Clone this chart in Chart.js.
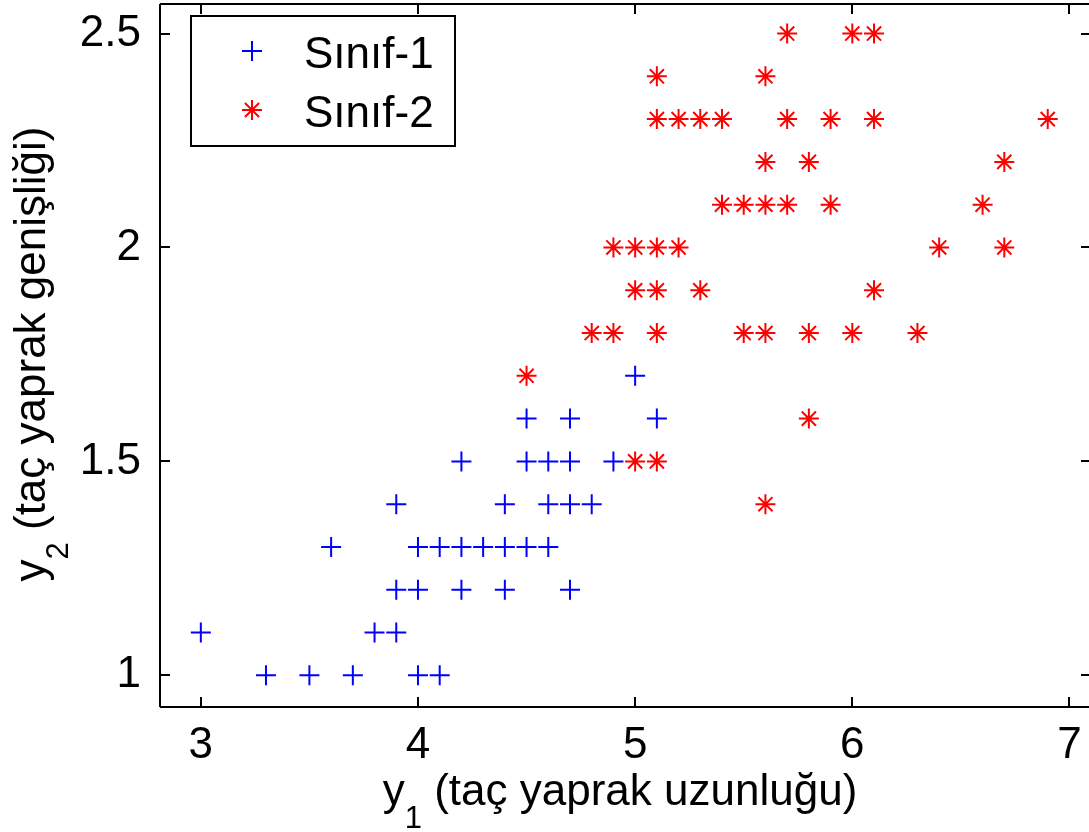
<!DOCTYPE html>
<html>
<head>
<meta charset="utf-8">
<script src="https://cdn.jsdelivr.net/npm/chart.js@4/dist/chart.umd.min.js"></script>
<style>
  html, body { margin: 0; padding: 0; background: #fff; overflow: hidden; }
  #wrap { width: 1089px; height: 832px; }
</style>
</head>
<body>
<div id="wrap"><canvas id="c" width="1089" height="832"></canvas></div>
<script>
// Petal measurements for the two classes
const seriesNames = ['Sınıf-1', 'Sınıf-2'];

const class1Length = [3.3, 3.5, 3.7, 4.0, 4.1,
                      3.0, 3.8, 3.9,
                      3.9, 4.0, 4.2, 4.4, 4.7,
                      3.6, 4.0, 4.1, 4.2, 4.3, 4.4, 4.5, 4.6,
                      3.9, 4.4, 4.6, 4.7, 4.8,
                      4.2, 4.5, 4.6, 4.7, 4.9,
                      4.5, 4.7, 5.1,
                      5.0];
const class1Width  = [1.0, 1.0, 1.0, 1.0, 1.0,
                      1.1, 1.1, 1.1,
                      1.2, 1.2, 1.2, 1.2, 1.2,
                      1.3, 1.3, 1.3, 1.3, 1.3, 1.3, 1.3, 1.3,
                      1.4, 1.4, 1.4, 1.4, 1.4,
                      1.5, 1.5, 1.5, 1.5, 1.5,
                      1.6, 1.6, 1.6,
                      1.7];

const class2Length = [5.6,
                      5.0, 5.1,
                      5.8,
                      4.5,
                      4.8, 4.9, 5.1, 5.5, 5.6, 5.8, 6.0, 6.3,
                      5.0, 5.1, 5.3, 6.1,
                      4.9, 5.0, 5.1, 5.2, 6.4, 6.7,
                      5.4, 5.5, 5.6, 5.7, 5.9, 6.6,
                      5.6, 5.8, 6.7,
                      5.1, 5.2, 5.3, 5.4, 5.7, 5.9, 6.1, 6.9,
                      5.1, 5.6,
                      5.7, 6.0, 6.1];
const class2Width  = [1.4,
                      1.5, 1.5,
                      1.6,
                      1.7,
                      1.8, 1.8, 1.8, 1.8, 1.8, 1.8, 1.8, 1.8,
                      1.9, 1.9, 1.9, 1.9,
                      2.0, 2.0, 2.0, 2.0, 2.0, 2.0,
                      2.1, 2.1, 2.1, 2.1, 2.1, 2.1,
                      2.2, 2.2, 2.2,
                      2.3, 2.3, 2.3, 2.3, 2.3, 2.3, 2.3, 2.3,
                      2.4, 2.4,
                      2.5, 2.5, 2.5];

const xTicks = [3, 4, 5, 6, 7];
const yTicks = [1, 1.5, 2, 2.5];
const xRange = [2.812, 7.09];
const yRange = [0.926, 2.569];

// Axis titles: main letter, subscript, remainder
const xTitle = ['y', '1', ' (taç yaprak uzunluğu)'];
const yTitle = ['y', '2', ' (taç yaprak genişliği)'];

const FONT = '"Liberation Sans", Arial, Helvetica, sans-serif';
const BLUE = '#0000ff';
const RED = '#ff0000';

const toPoints = (xs, ys) => xs.map((x, i) => ({ x: x, y: ys[i] }));

function drawMarker(ctx, style, color, x, y) {
  const opts = { pointStyle: style, radius: 10, borderWidth: 2, rotation: 0 };
  ctx.save();
  ctx.strokeStyle = color;
  ctx.fillStyle = color;
  ctx.lineWidth = 2;
  if (Chart.helpers && Chart.helpers.drawPoint) {
    Chart.helpers.drawPoint(ctx, opts, x, y);
  } else {
    const r = 10, d = r * Math.SQRT1_2;
    ctx.beginPath();
    ctx.moveTo(x - r, y); ctx.lineTo(x + r, y);
    ctx.moveTo(x, y - r); ctx.lineTo(x, y + r);
    if (style === 'star') {
      ctx.moveTo(x - d, y - d); ctx.lineTo(x + d, y + d);
      ctx.moveTo(x - d, y + d); ctx.lineTo(x + d, y - d);
    }
    ctx.stroke();
  }
  ctx.restore();
}

// No extra room for overhanging first/last tick labels: the box fills the canvas
function noLabelPadding(s) {
  s.paddingLeft = 0;
  s.paddingRight = 0;
  s.paddingTop = 0;
  s.paddingBottom = 0;
}

// Axis box with inward ticks, sub-scripted axis titles and a boxed legend
const framePlugin = {
  id: 'frame',
  afterDatasetsDraw(chart) {
    const { ctx, chartArea: a, scales } = chart;
    const right = a.right + 2;
    ctx.save();
    ctx.strokeStyle = '#000';
    ctx.lineWidth = 2;
    ctx.beginPath();
    ctx.moveTo(a.left, a.top); ctx.lineTo(right, a.top);
    ctx.moveTo(a.left, a.top); ctx.lineTo(a.left, a.bottom);
    ctx.moveTo(a.left, a.bottom); ctx.lineTo(right, a.bottom);
    ctx.moveTo(right, a.top); ctx.lineTo(right, a.bottom);
    const tl = 10;
    xTicks.forEach(v => {
      const px = Math.round(scales.x.getPixelForValue(v));
      ctx.moveTo(px, a.bottom); ctx.lineTo(px, a.bottom - tl);
      ctx.moveTo(px, a.top); ctx.lineTo(px, a.top + tl);
    });
    yTicks.forEach(v => {
      const py = Math.round(scales.y.getPixelForValue(v));
      ctx.moveTo(a.left, py); ctx.lineTo(a.left + tl, py);
      ctx.moveTo(right, py); ctx.lineTo(right - tl, py);
    });
    ctx.stroke();
    ctx.restore();
  },
  afterDraw(chart) {
    const { ctx } = chart;
    const mainFont = '44px ' + FONT;
    const subFont = '31px ' + FONT;

    function titleWidth(parts) {
      ctx.font = mainFont;
      const w0 = ctx.measureText(parts[0]).width;
      const w2 = ctx.measureText(parts[2]).width;
      ctx.font = subFont;
      const w1 = ctx.measureText(parts[1]).width;
      return [w0, w1, w2];
    }
    function drawTitle(parts, startX, baseY) {
      const w = titleWidth(parts);
      ctx.fillStyle = '#000';
      ctx.textBaseline = 'alphabetic';
      ctx.textAlign = 'left';
      ctx.font = mainFont;
      ctx.fillText(parts[0], startX, baseY);
      ctx.font = subFont;
      ctx.fillText(parts[1], startX + w[0], baseY + 23);
      ctx.font = mainFont;
      ctx.fillText(parts[2], startX + w[0] + w[1], baseY);
    }

    ctx.save();
    let w = titleWidth(xTitle);
    let total = w[0] + w[1] + w[2];
    drawTitle(xTitle, 620 - total / 2, 805);
    w = titleWidth(yTitle);
    total = w[0] + w[1] + w[2];
    ctx.translate(45, 354);
    ctx.rotate(-Math.PI / 2);
    drawTitle(yTitle, -total / 2, 0);
    ctx.restore();

    // legend
    ctx.save();
    const box = { x: 191, y: 16, w: 264, h: 130 };
    ctx.fillStyle = '#fff';
    ctx.fillRect(box.x, box.y, box.w, box.h);
    ctx.strokeStyle = '#000';
    ctx.lineWidth = 2;
    ctx.strokeRect(box.x, box.y, box.w, box.h);
    const rows = [
      { label: chart.data.datasets[0].label, style: 'cross', color: BLUE, cy: 51 },
      { label: chart.data.datasets[1].label, style: 'star', color: RED, cy: 110 }
    ];
    rows.forEach(r => {
      drawMarker(ctx, r.style, r.color, 252, r.cy);
      ctx.fillStyle = '#000';
      ctx.font = '44px ' + FONT;
      ctx.textAlign = 'left';
      ctx.textBaseline = 'alphabetic';
      ctx.fillText(r.label, 304, r.cy + 17);
    });
    ctx.restore();
  }
};

new Chart(document.getElementById('c'), {
  type: 'scatter',
  data: {
    datasets: [
      {
        label: seriesNames[0],
        data: toPoints(class1Length, class1Width),
        pointStyle: 'cross',
        pointRadius: 10,
        pointHoverRadius: 10,
        borderColor: BLUE,
        backgroundColor: BLUE,
        pointBorderWidth: 2,
        order: 2
      },
      {
        label: seriesNames[1],
        data: toPoints(class2Length, class2Width),
        pointStyle: 'star',
        pointRadius: 10,
        pointHoverRadius: 10,
        borderColor: RED,
        backgroundColor: RED,
        pointBorderWidth: 2,
        order: 1
      }
    ]
  },
  options: {
    responsive: false,
    animation: false,
    events: [],
    layout: { autoPadding: false, padding: { top: 4, right: 0, left: 0, bottom: 0 } },
    plugins: { legend: { display: false }, tooltip: { enabled: false } },
    scales: {
      x: {
        type: 'linear',
        min: xRange[0],
        max: xRange[1],
        grid: { display: false },
        border: { display: false },
        afterBuildTicks: s => { s.ticks = xTicks.map(v => ({ value: v })); },
        afterFit: s => { s.height = 125; noLabelPadding(s); },
        ticks: {
          color: '#000',
          padding: 9,
          maxRotation: 0,
          font: { family: FONT, size: 44, lineHeight: 1 },
          callback: v => String(v)
        }
      },
      y: {
        type: 'linear',
        min: yRange[0],
        max: yRange[1],
        grid: { display: false },
        border: { display: false },
        afterBuildTicks: s => { s.ticks = yTicks.map(v => ({ value: v })); },
        afterFit: s => { s.width = 160; noLabelPadding(s); },
        ticks: {
          color: '#000',
          padding: 11,
          font: { family: FONT, size: 44, lineHeight: 1 },
          callback: v => String(v)
        }
      }
    }
  },
  plugins: [framePlugin]
});
</script>
</body>
</html>
